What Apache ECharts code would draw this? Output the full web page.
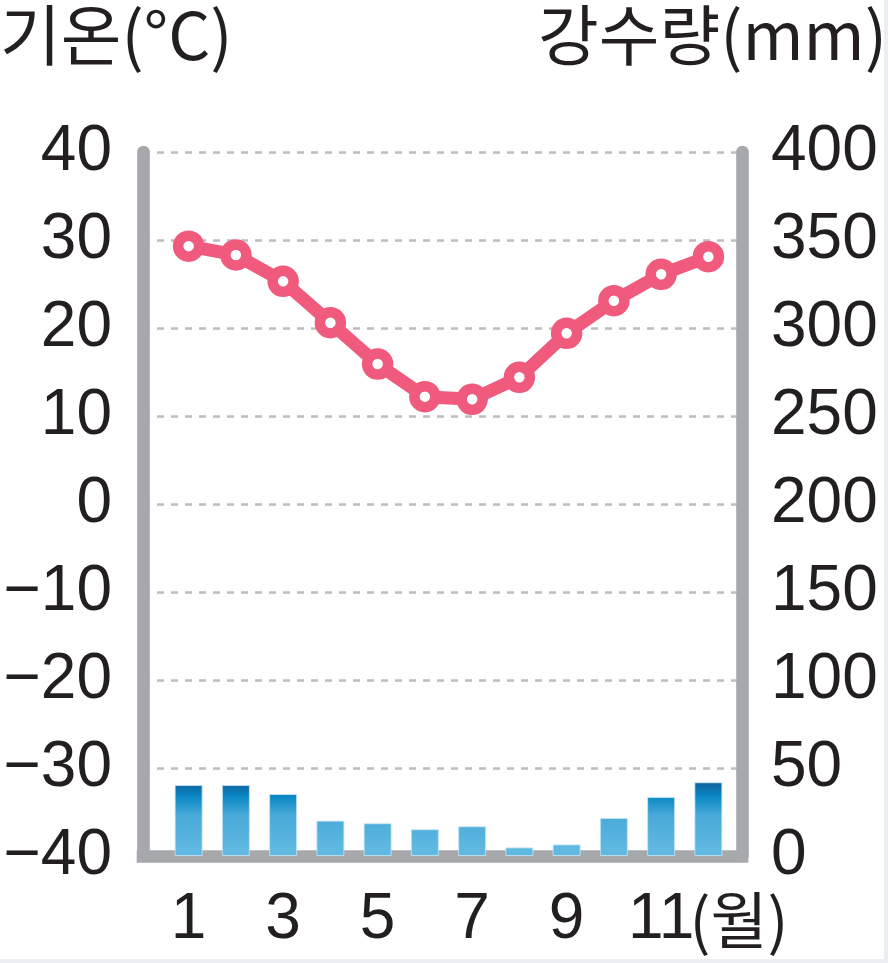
<!DOCTYPE html>
<html>
<head>
<meta charset="utf-8">
<script src="https://cdn.jsdelivr.net/npm/echarts@6/dist/echarts.min.js"></script>
<style>
html,body{margin:0;padding:0;background:#eceef2;width:888px;height:963px;overflow:hidden;}
#c{position:absolute;left:0;top:0;width:884px;height:959px;background:#fff;}
</style>
</head>
<body>
<div id="c"></div>
<script>
// ---- data ----
const months = ['1','2','3','4','5','6','7','8','9','10','11','12'];
const temperature = [29.3, 28.3, 25.3, 20.6, 15.9, 12.2, 11.9, 14.4, 19.4, 23.1, 26.1, 28.1];
const precipitation = [40.3, 40.3, 35.2, 20.1, 18.6, 15.2, 16.9, 4.9, 6.6, 21.6, 33.5, 41.9];
const tempAxis = { min: -40, max: 40, interval: 10 };
const precipAxis = { min: 0, max: 400, interval: 50 };
const titleTemp = '기온(°C)';
const titlePrecip = '강수량(mm)';
const monthUnit = '(월)';

// ---- styles ----
const INK = '#231f20';
const AXIS = '#a7a8ac';
const PINK = '#ef5a7d';
const NUMFONT = 'Liberation Sans';
const KFONT = 'Noto Sans CJK KR';

const chart = echarts.init(document.getElementById('c'), null, { renderer: 'canvas' });

const barGradient = new echarts.graphic.LinearGradient(0, 780, 0, 850, [
  { offset: 0, color: '#0f5a96' },
  { offset: 0.24, color: '#0a88c5' },
  { offset: 0.5, color: '#48a9d8' },
  { offset: 1, color: '#60b9e1' }
], true);

const axisLineStyle = { color: AXIS, width: 12.6 };

chart.setOption({
  animation: false,
  backgroundColor: '#fff',
  title: [
    { text: titleTemp, left: 0, top: 2, padding: 0,
      textStyle: { fontFamily: KFONT, fontSize: 66, fontWeight: 'normal', color: INK } },
    { text: titlePrecip, right: -3, top: 2, padding: 0,
      textStyle: { fontFamily: KFONT, fontSize: 66, fontWeight: 'normal', color: INK } }
  ],
  grid: [
    { left: 143, top: 152, width: 599, height: 704, containLabel: false },
    { left: 165, top: 152, width: 567, height: 704, containLabel: false }
  ],
  xAxis: [
    { gridIndex: 0, type: 'value', min: 0, max: 1, position: 'bottom',
      axisLine: { show: true, onZero: false, lineStyle: Object.assign({ cap: 'square' }, axisLineStyle) },
      axisTick: { show: false }, axisLabel: { show: false }, splitLine: { show: false } },
    { gridIndex: 1, type: 'category', data: months, position: 'bottom', boundaryGap: true,
      axisLine: { show: false, onZero: false }, axisTick: { show: false },
      axisLabel: { interval: 1, margin: 32, fontSize: 64, fontFamily: NUMFONT, color: INK },
      splitLine: { show: false },
      name: '\n\n' + monthUnit, nameLocation: 'end', nameGap: 7, nameMoveOverlap: false,
      nameTextStyle: { fontFamily: KFONT, fontSize: 62, lineHeight: 64, color: INK, align: 'center',
        verticalAlign: 'middle' } }
  ],
  yAxis: [
    { gridIndex: 0, type: 'value', position: 'left',
      min: tempAxis.min, max: tempAxis.max, interval: tempAxis.interval,
      axisLine: { show: true, onZero: false, lineStyle: axisLineStyle },
      axisTick: { show: false },
      axisLabel: { margin: 31, fontSize: 64, fontFamily: NUMFONT, color: INK,
        formatter: v => (v < 0 ? '\u2212' + Math.abs(v) : String(v)) },
      splitLine: { show: true, lineStyle: { color: '#bdbdbd', width: 2.5, type: [7, 7] } } },
    { gridIndex: 0, type: 'value', position: 'right',
      min: precipAxis.min, max: precipAxis.max, interval: precipAxis.interval,
      axisLine: { show: true, onZero: false, lineStyle: axisLineStyle },
      axisTick: { show: false },
      axisLabel: { margin: 29, fontSize: 64, fontFamily: NUMFONT, color: INK },
      splitLine: { show: false } },
    { gridIndex: 1, type: 'value', min: tempAxis.min, max: tempAxis.max, interval: tempAxis.interval, show: false },
    { gridIndex: 1, type: 'value', min: precipAxis.min, max: precipAxis.max, interval: precipAxis.interval, show: false }
  ],
  series: [
    { type: 'bar', xAxisIndex: 1, yAxisIndex: 3, data: precipitation, barWidth: 28, z: 2,
      itemStyle: { color: barGradient, borderColor: 'rgba(200,230,246,0.8)', borderWidth: 1 } },
    { type: 'line', xAxisIndex: 1, yAxisIndex: 2, data: temperature, z: 3,
      lineStyle: { color: PINK, width: 13 },
      symbol: 'circle', symbolSize: 21,
      itemStyle: { color: '#fff', borderColor: PINK, borderWidth: 10.5 } }
  ]
});
</script>
</body>
</html>
